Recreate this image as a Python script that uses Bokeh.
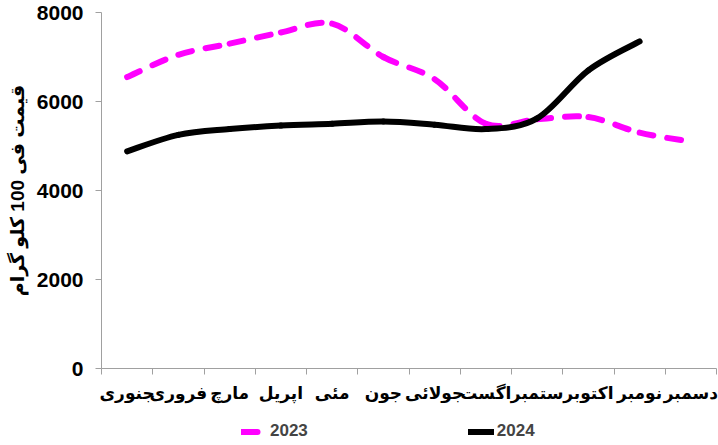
from bokeh.plotting import figure
from bokeh.layouts import column
from bokeh.models import Range1d, FixedTicker, Legend, LegendItem, ColumnDataSource
from bokeh.embed import file_html
from bokeh.resources import INLINE

months = ["جنوری", "فروری", "مارچ", "اپریل", "مئی", "جون", "جولائی", "اگست", "ستمبر", "اکتوبر", "نومبر", "دسمبر"]
values_2023 = [6550, 7050, 7300, 7550, 7750, 7000, 6500, 5500, 5600, 5650, 5300, 5100]
values_2024 = [4880, 5250, 5380, 5460, 5500, 5550, 5480, 5380, 5620, 6700, 7350]
y_ticks = [0, 2000, 4000, 6000, 8000]
series_names = ["2023", "2024"]
y_title = "قیمت فی 100 کلو گرام"

FONT = "Liberation Sans, DejaVu Sans, sans-serif"
COL_23 = "#FF00FF"
COL_24 = "black"
DASH_23 = "14 14"


def smooth_segments(vals):
    """Catmull-Rom style smoothing as cubic Bezier segments between data points."""
    xs = [i + 1 for i in range(len(vals))]
    n = len(vals)
    d = dict(x0=[], y0=[], x1=[], y1=[], cx0=[], cy0=[], cx1=[], cy1=[])
    for i in range(n - 1):
        xm, ym = (xs[i - 1], vals[i - 1]) if i > 0 else (xs[i], vals[i])
        xp, yp = (xs[i + 2], vals[i + 2]) if i + 2 < n else (xs[i + 1], vals[i + 1])
        d["x0"].append(xs[i]); d["y0"].append(vals[i])
        d["x1"].append(xs[i + 1]); d["y1"].append(vals[i + 1])
        d["cx0"].append(xs[i] + (xs[i + 1] - xm) / 6.0)
        d["cy0"].append(vals[i] + (vals[i + 1] - ym) / 6.0)
        d["cx1"].append(xs[i + 1] - (xp - xs[i]) / 6.0)
        d["cy1"].append(vals[i + 1] - (yp - vals[i]) / 6.0)
    return ColumnDataSource(d)


src_23 = smooth_segments(values_2023)
src_24 = smooth_segments(values_2024)
BZ = dict(x0="x0", y0="y0", x1="x1", y1="y1", cx0="cx0", cy0="cy0", cx1="cx1", cy1="cy1")

p = figure(width=718, height=410, output_backend="svg", toolbar_location=None,
           x_range=Range1d(0.5, len(months) + 0.5), y_range=Range1d(0, 8000),
           min_border_left=101, min_border_top=12, min_border_right=2, min_border_bottom=42)
p.outline_line_color = None
p.grid.visible = False
p.background_fill_color = "white"

p.bezier(source=src_23, line_color=COL_23, line_width=6, line_dash=DASH_23, line_cap="round", **BZ)
p.bezier(source=src_24, line_color=COL_24, line_width=6, line_cap="round", **BZ)

# x axis
xt = FixedTicker(ticks=[i + 1 for i in range(len(months))],
                 minor_ticks=[i + 0.5 for i in range(len(months) + 1)])
p.xaxis.ticker = xt
p.xaxis.major_label_overrides = {i + 1: m for i, m in enumerate(months)}
p.xaxis.major_tick_out = 0
p.xaxis.major_tick_in = 0
p.xaxis.minor_tick_out = 6
p.xaxis.minor_tick_in = 0
p.xaxis.minor_tick_line_color = "#a0a0a0"
p.xaxis.axis_line_color = "#a0a0a0"
p.xaxis.major_label_text_font = FONT
p.xaxis.major_label_text_font_style = "bold"
p.xaxis.major_label_text_font_size = "17px"
p.xaxis.major_label_text_color = "black"
p.xaxis.major_label_standoff = 9

# y axis
p.yaxis.ticker = FixedTicker(ticks=y_ticks)
p.yaxis.minor_tick_line_color = None
p.yaxis.major_tick_out = 6
p.yaxis.major_tick_in = 0
p.yaxis.major_tick_line_color = "#a0a0a0"
p.yaxis.axis_line_color = "#a0a0a0"
p.yaxis.major_label_text_font = FONT
p.yaxis.major_label_text_font_style = "bold"
p.yaxis.major_label_text_font_size = "21px"
p.yaxis.major_label_text_color = "black"
p.yaxis.major_label_standoff = 12
p.yaxis.axis_label = y_title
p.yaxis.axis_label_text_font = FONT
p.yaxis.axis_label_text_font_style = "bold"
p.yaxis.axis_label_text_font_size = "19px"
p.yaxis.axis_label_text_color = "black"
p.yaxis.axis_label_standoff = 6

# legend strip below the chart (its frame is aligned with the chart's frame)
pl = figure(width=718, height=35, output_backend="svg", toolbar_location=None,
            x_range=Range1d(-2, -1), y_range=Range1d(-2, -1),
            min_border_left=0, min_border_right=0, min_border_top=0, min_border_bottom=0)
pl.axis.visible = False
pl.grid.visible = False
pl.outline_line_color = None
l23 = pl.bezier(source=src_23, line_color=COL_23, line_width=6, line_dash="16 30", line_cap="round", **BZ)
l24 = pl.bezier(source=src_24, line_color=COL_24, line_width=6, line_cap="round", **BZ)
legend = Legend(items=[LegendItem(label=series_names[0], renderers=[l23]),
                       LegendItem(label=series_names[1], renderers=[l24])],
                orientation="horizontal", location=(140, 4), spacing=160,
                glyph_width=26, glyph_height=17, label_height=17, label_standoff=3,
                label_text_font=FONT, label_text_font_style="bold",
                label_text_font_size="17px", border_line_color=None,
                padding=0, margin=0, background_fill_alpha=0)
pl.add_layout(legend, "center")

layout = column(p, pl, spacing=0)
open("out.html", "w").write(file_html(layout, INLINE))
